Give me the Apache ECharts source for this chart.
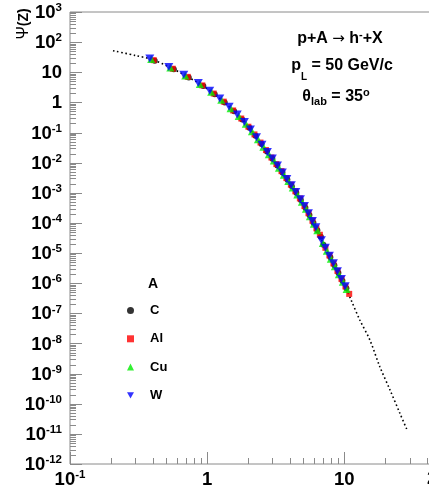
<!DOCTYPE html>
<html><head><meta charset="utf-8">
<script src="https://cdn.jsdelivr.net/npm/echarts@6/dist/echarts.min.js"></script>
<style>html,body{margin:0;padding:0;background:#fff}#c{width:429px;height:489px}</style>
</head><body><div id="c"></div>
<script>
const F = 'Liberation Sans, Arial, sans-serif';
const seriesNames = ['C', 'Al', 'Cu', 'W'];
const xMajorTicks = [0.1, 1, 10];
const xMinorTicks = [0.2,0.3,0.4,0.5,0.6,0.7,0.8,0.9,2,3,4,5,6,7,8,9,20,30,40];
const yMajorTicks = [1e-12,1e-11,1e-10,1e-9,1e-8,1e-7,1e-6,1e-5,1e-4,1e-3,1e-2,1e-1,1,10,100,1000];
const minorMultipliers = [2,3,4,5,6,7,8,9];

const C_x = [0.415,0.572,0.735,0.939,1.137,1.345,1.575,1.804,2.034,2.253,2.493,2.733,2.993,3.254,3.546,3.849,4.151,4.474,4.829,5.215,5.580,5.966,6.373,6.759,7.05,7.927,8.480,9.074,9.710,10.38];
const C_y = [24.3,12.7,6.75,3.51,1.86,0.995,0.505,0.270,0.143,0.0787,0.0419,0.0236,0.0134,0.00803,0.00470,0.00275,0.00166,0.000999,5.74e-4,3.18e-4,1.83e-4,1.02e-4,5.76e-5,3.51e-5,1.9e-5,7.23e-6,3.93e-6,2.21e-6,1.20e-6,6.74e-7];
const Al_x = [0.408,0.562,0.723,0.923,1.118,1.324,1.549,1.775,2.001,2.216,2.452,2.688,2.945,3.201,3.488,3.786,4.083,4.402,4.750,5.130,5.489,5.869,6.269,6.648,7.295,7.798,8.341,8.926,9.552,10.21,10.88];
const Al_y = [25.2,13.1,7.04,3.67,1.97,1.06,0.541,0.292,0.156,0.0866,0.0465,0.0262,0.0148,0.00895,0.00524,0.00307,0.00185,0.00112,6.49e-4,3.62e-4,2.10e-4,1.18e-4,6.63e-5,4.05e-5,1.49e-5,8.36e-6,4.54e-6,2.56e-6,1.39e-6,7.80e-7,4.42e-7];
const Cu_x = [0.391,0.539,0.693,0.885,1.071,1.268,1.484,1.701,1.917,2.123,2.349,2.575,2.821,3.067,3.342,3.627,3.912,4.217,4.551,4.915,5.259,5.623,6.006,6.370,6.989,7.471,7.992,8.552,9.152,9.781,10.42];
const Cu_y = [27.4,14.3,7.82,4.11,2.25,1.23,0.643,0.353,0.194,0.110,0.0602,0.0339,0.0192,0.0117,0.00684,0.00401,0.00245,0.00149,8.81e-4,5.01e-4,2.96e-4,1.68e-4,9.45e-5,5.76e-5,2.14e-5,1.20e-5,6.53e-6,3.68e-6,2.00e-6,1.12e-6,6.36e-7];
const W_x = [0.382,0.526,0.676,0.863,1.045,1.237,1.448,1.659,1.870,2.071,2.292,2.513,2.752,2.992,3.261,3.539,3.817,4.114,4.440,4.795,5.131,5.485,5.859,6.214,6.818,7.288,7.797,8.343,8.928,9.542,10.17];
const W_y = [28.9,15.0,8.33,4.41,2.43,1.35,0.713,0.396,0.222,0.127,0.0703,0.0396,0.0224,0.0137,0.00804,0.00471,0.00288,0.00177,1.06e-3,6.09e-4,3.64e-4,2.08e-4,1.17e-4,7.13e-5,2.66e-5,1.50e-5,8.12e-6,4.57e-6,2.49e-6,1.39e-6,7.91e-7];

const curve_x = [0.206,0.30,0.398,0.548,0.705,0.90,1.09,1.29,1.51,1.73,1.95,2.39,2.87,3.40,3.98,4.63,5.35,6.11,6.8,7.6,8.7,9.95,11.3,13.0,15.4,18.2,21.6,25.5,29.0];
const curve_y = [52,36,26.5,13.8,7.5,3.93,2.13,1.16,0.60,0.327,0.178,0.0543,0.0173,0.00615,0.00219,7.8e-4,2.58e-4,8.2e-5,2.9e-5,1.04e-5,3.18e-6,9.7e-7,2.6e-7,6.0e-8,1.3e-8,1.69e-9,2.85e-10,4.8e-11,1.24e-11];

const zip = (xs, ys) => xs.map((x, i) => [x, ys[i]]);

const X_MIN = 0.1, X_MAX = 50, Y_MIN = 1e-12, Y_MAX = 1e3;

const yTickData = [];
yMajorTicks.forEach(v => {
  yTickData.push([X_MIN, v, 12]);
  if (v < Y_MAX) minorMultipliers.forEach(m => yTickData.push([X_MIN, v * m, 6]));
});
const xTickData = xMajorTicks.map(v => [v, Y_MIN, 12]).concat(xMinorTicks.map(v => [v, Y_MIN, 6]));

function powText(v) {
  const e = Math.round(Math.log10(v));
  if (e === 0) return '{b|1}';
  if (e === 1) return '{b|10}';
  return '{b|10}{s|' + e + '}';
}
const labelRich = {
  b: {fontSize: 18.5, fontWeight: 'bold', fontFamily: F, fill: '#000', lineHeight: 22, verticalAlign: 'middle'},
  s: {fontSize: 11.5, fontWeight: 'bold', fontFamily: F, fill: '#000', lineHeight: 10, verticalAlign: 'top'}
};

const chart = echarts.init(document.getElementById('c'), null, {renderer: 'canvas'});
const tickColor = '#8a8a8a';
chart.setOption({
  animation: false,
  backgroundColor: '#fff',
  grid: {left: 70, right: -11, top: 12, bottom: 25, show: true, borderColor: tickColor, borderWidth: 1, containLabel: false, outerBoundsMode: 'none'},
  xAxis: {
    type: 'log', logBase: 10, min: X_MIN, max: X_MAX,
    axisLine: {show: false}, axisTick: {show: false}, splitLine: {show: false}, minorTick: {show: false},
    axisLabel: {show: false}
  },
  yAxis: {
    type: 'log', logBase: 10, min: Y_MIN, max: Y_MAX,
    axisLine: {show: false}, axisTick: {show: false}, splitLine: {show: false}, minorTick: {show: false},
    axisLabel: {show: false}
  },
  legend: {
    orient: 'vertical', left: 127, top: 303, padding: 0, itemWidth: 7, itemHeight: 7, itemGap: 13.3,
    data: seriesNames,
    textStyle: {fontFamily: F, fontWeight: 'bold', fontSize: 13, color: '#000', lineHeight: 15, padding: [0, 0, 0, 11]}
  },
  graphic: [
    {type: 'text', x: 24, y: 24, rotation: Math.PI / 2, style: {
      text: '{n|Ψ}{b|(Z)}', align: 'center', verticalAlign: 'middle',
      rich: {n: {fontSize: 16, fontFamily: F, fill: '#000'}, b: {fontSize: 14, fontWeight: 'bold', fontFamily: F, fill: '#000'}}}},
    {type: 'text', x: 153, y: 284, style: {text: 'A', align: 'center', verticalAlign: 'middle', font: 'bold 14px ' + F, fill: '#000'}},
    {type: 'text', x: 340, y: 39, style: {
      text: '{t|p+A }{a|→}{t| h}{sp|-}{t|+X}', align: 'center', verticalAlign: 'middle',
      rich: {t: {fontSize: 16, fontWeight: 'bold', fontFamily: F, lineHeight: 20, verticalAlign: 'middle'},
             a: {fontSize: 15, fontFamily: 'DejaVu Sans', lineHeight: 20, verticalAlign: 'middle'},
             sp: {fontSize: 11, fontWeight: 'bold', fontFamily: F, lineHeight: 10, verticalAlign: 'top'}}}},
    {type: 'text', x: 342, y: 68, style: {
      text: '{t|p}{sub|L}{t| = 50 GeV/c}', align: 'center', verticalAlign: 'middle',
      rich: {t: {fontSize: 16, fontWeight: 'bold', fontFamily: F, lineHeight: 20, verticalAlign: 'top'},
             sub: {fontSize: 10, fontWeight: 'bold', fontFamily: F, lineHeight: 12, padding: [14, 0, 0, 0], verticalAlign: 'top'}}}},
    {type: 'text', x: 336, y: 97, style: {
      text: '{t|θ}{sub|lab}{t| = 35}{sp|o}', align: 'center', verticalAlign: 'middle',
      rich: {t: {fontSize: 16, fontWeight: 'bold', fontFamily: F, lineHeight: 20, verticalAlign: 'middle'},
             sub: {fontSize: 11, fontWeight: 'bold', fontFamily: F, lineHeight: 12, verticalAlign: 'bottom'},
             sp: {fontSize: 11, fontWeight: 'bold', fontFamily: F, lineHeight: 10, verticalAlign: 'top'}}}},
    {type: 'text', x: 427, y: 479, style: {text: '2', align: 'left', verticalAlign: 'middle', font: 'bold 18px ' + F, fill: '#000'}}
  ],
  series: [
    {type: 'custom', silent: true, data: yTickData, z: 1, renderItem: (p, api) => {
      const pt = api.coord([api.value(0), api.value(1)]);
      const y = Math.round(pt[1]) + 0.5, x = Math.round(pt[0]);
      const line = {type: 'line', shape: {x1: x, y1: y, x2: x + api.value(2), y2: y}, style: {stroke: tickColor, lineWidth: 1}};
      if (api.value(2) < 10) return line;
      return {type: 'group', children: [line, {type: 'text', x: x - 8, y: pt[1] + 1,
        style: {text: powText(api.value(1)), align: 'right', verticalAlign: 'middle', rich: labelRich}}]};
    }},
    {type: 'custom', silent: true, data: xTickData, z: 1, renderItem: (p, api) => {
      const pt = api.coord([api.value(0), api.value(1)]);
      const x = Math.round(pt[0]) + 0.5, y = Math.round(pt[1]);
      const line = {type: 'line', shape: {x1: x, y1: y, x2: x, y2: y - api.value(2)}, style: {stroke: tickColor, lineWidth: 1}};
      if (api.value(2) < 10) return line;
      return {type: 'group', children: [line, {type: 'text', x: pt[0], y: y + 16,
        style: {text: powText(api.value(0)), align: 'center', verticalAlign: 'middle', rich: labelRich}}]};
    }},
    {type: 'line', name: 'fit', data: zip(curve_x, curve_y), smooth: 0.3, symbol: 'none', z: 2,
     lineStyle: {color: '#000', width: 1.6, type: [1.6, 2.6]}},
    {type: 'scatter', name: 'C', data: zip(C_x, C_y), symbol: 'circle', symbolSize: 6, itemStyle: {color: '#000'}, z: 3},
    {type: 'scatter', name: 'Al', data: zip(Al_x, Al_y), symbol: 'rect', symbolSize: 6, itemStyle: {color: '#ff0000'}, z: 3},
    {type: 'scatter', name: 'Cu', data: zip(Cu_x, Cu_y), symbol: 'triangle', symbolSize: 8, itemStyle: {color: '#00ee00'}, z: 3},
    {type: 'scatter', name: 'W', data: zip(W_x, W_y), symbol: 'path://M0,0L10,0L5,9Z', symbolSize: [9, 8], itemStyle: {color: '#0000ff'}, z: 3}
  ]
});
</script></body></html>
